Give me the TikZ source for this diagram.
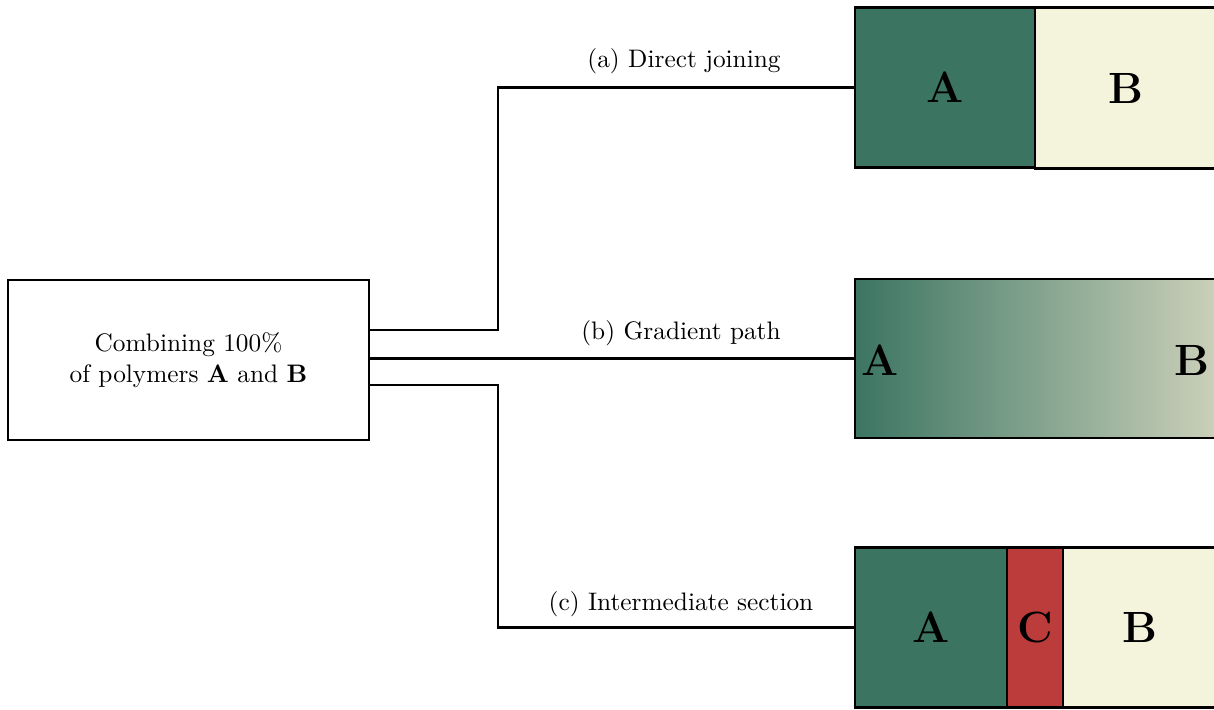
\documentclass[tikz,border=0pt]{standalone}
\usetikzlibrary{calc}
\definecolor{polyA}{RGB}{59,117,98}
\definecolor{polyB}{RGB}{244,244,220}
\definecolor{polyC}{RGB}{188,59,59}
\definecolor{gradEnd}{RGB}{203,208,186}
\tikzset{
  px/.style={x=0.395pt,y=-0.395pt},
  blk/.style={draw,line width=1pt,inner sep=0pt,minimum height=63.4pt,font=\LARGE\bfseries},
  srcbox/.style={draw,line width=1pt,inner sep=0pt,minimum width=142.6pt,minimum height=63.2pt,align=center},
  conn/.style={line width=1pt},
  lbl/.style={inner sep=1pt}
}
\begin{document}
\begin{tikzpicture}[px]
\clip (0,0) rectangle (1214,709);
\useasboundingbox (0,0) rectangle (1214,709);
% source box
\node[srcbox] (L) at (188.5,360) {Combining 100\%\\of polymers \textbf{A} and \textbf{B}};
% (a) direct joining
\node[blk,fill=polyA,minimum width=71.1pt] (aA) at (945,87.5) {A};
\node[blk,fill=polyB,minimum width=71.7pt] (aB) at (1125.75,88) {B};
% (b) gradient
\node[blk,left color=polyA,right color=gradEnd,minimum width=142.8pt,minimum height=62.8pt] (b) at (1035.75,358.5) {};
\node[font=\LARGE\bfseries,inner sep=0pt] (bA) at (880,360) {A};
\node[font=\LARGE\bfseries,inner sep=0pt] (bB) at (1192,360) {B};
% (c) intermediate section
\node[blk,fill=polyA,minimum width=60pt] (cA) at (931,627.5) {A};
\node[blk,fill=polyC,minimum width=22.1pt] (cC) at (1035,627.5) {C};
\node[blk,fill=polyB,minimum width=60.6pt] (cB) at (1139.75,627.5) {B};
% connectors
\coordinate (ja) at (498,330);
\coordinate (jc) at (498,385);
\draw[conn] (L.east |- ja) -- (ja) |- (aA.west);
\draw[conn] (L.east |- b.west) -- (b.west);
\draw[conn] (L.east |- jc) -- (jc) |- (cA.west);
% labels
\node[lbl] (la) at (684,61) {(a) Direct joining};
\node[lbl] (lb) at (681,333) {(b) Gradient path};
\node[lbl] (lc) at (681,604) {(c) Intermediate section};
\end{tikzpicture}
\end{document}
